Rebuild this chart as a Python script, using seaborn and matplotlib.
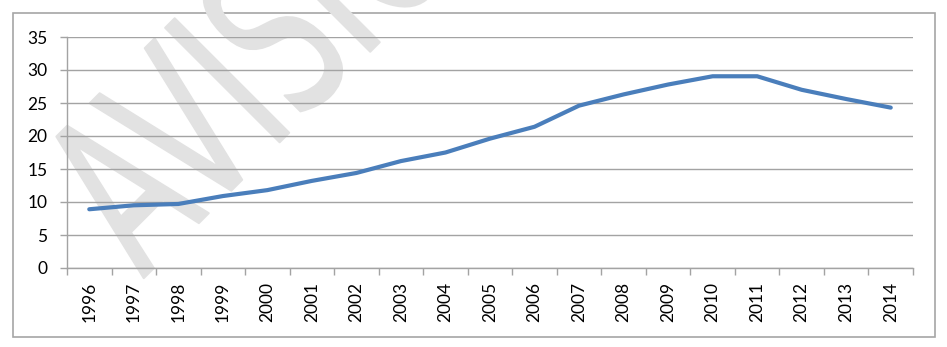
import matplotlib
matplotlib.use("Agg")
import matplotlib.pyplot as plt
from matplotlib.patches import Rectangle
from matplotlib.ticker import FixedLocator
from matplotlib.patheffects import AbstractPathEffect
from matplotlib.transforms import Affine2D
import seaborn as sns
import pandas as pd

years = [1996, 1997, 1998, 1999, 2000, 2001, 2002, 2003, 2004, 2005,
         2006, 2007, 2008, 2009, 2010, 2011, 2012, 2013, 2014]
values = [8.9, 9.5, 9.7, 10.9, 11.8, 13.2, 14.4, 16.2, 17.5, 19.6,
          21.4, 24.6, 26.3, 27.8, 29.05, 29.05, 27.0, 25.6, 24.3]
y_ticks = [0, 5, 10, 15, 20, 25, 30, 35]
watermark = "AVISIO"


class NarrowRounded(AbstractPathEffect):
    """Draw text glyphs narrowed along the baseline, with a rounded outline."""

    def __init__(self, sx, lw):
        super().__init__()
        self.sx = sx
        self.lw = lw

    def draw_path(self, renderer, gc, tpath, affine, rgbFace=None):
        aff = Affine2D().scale(self.sx, 1.0) + affine
        gc0 = renderer.new_gc()
        gc0.copy_properties(gc)
        gc0.set_linewidth(self.lw)
        gc0.set_joinstyle("round")
        gc0.set_capstyle("round")
        renderer.draw_path(gc0, tpath, aff, rgbFace)
        gc0.restore()


df = pd.DataFrame({"year": years, "value": values})

sns.set_style("white")
plt.rcParams["font.family"] = ["Lato", "DejaVu Sans"]

W, H = 947, 347
fig = plt.figure(figsize=(W / 100, H / 100), dpi=100)
fig.patch.set_facecolor("white")

# outer chart border
fig.patches.append(Rectangle((13 / W, 1 - 337 / H), (935 - 13) / W, (337 - 13) / H,
                             transform=fig.transFigure, fill=False,
                             edgecolor="#a6a6a6", linewidth=1.2, zorder=-10))

# watermark
wm = fig.text(143 / W, 1 - 279 / H, watermark, rotation=45, rotation_mode="anchor",
              ha="left", va="baseline", fontsize=160, color="#e2e2e2",
              family="DejaVu Sans", zorder=-5)
wm.set_path_effects([NarrowRounded(0.62, 1.4)])

ax = fig.add_axes([67 / W, 1 - 268 / H, (913 - 67) / W, (268 - 37) / H])
ax.patch.set_visible(False)

sns.lineplot(data=df, x="year", y="value", ax=ax, color="#4a7ebb",
             linewidth=3.0, solid_capstyle="round", zorder=5)

ax.set_xlim(years[0] - 0.5, years[-1] + 0.5)
ax.set_ylim(0, 35)
ax.set_yticks(y_ticks)
ax.set_xticks(years)
ax.set_xticklabels([str(y) for y in years], rotation=90)
ax.xaxis.set_minor_locator(FixedLocator([y - 0.5 for y in years] + [years[-1] + 0.5]))
ax.set_xlabel("")
ax.set_ylabel("")

grid_c = "#a3a3a3"
ax.grid(axis="y", color=grid_c, linewidth=1.0, zorder=1)
ax.set_axisbelow(True)
for s in ["top", "right"]:
    ax.spines[s].set_visible(False)
for s in ["left", "bottom"]:
    ax.spines[s].set_color(grid_c)
    ax.spines[s].set_linewidth(1.0)

ax.tick_params(axis="y", which="major", length=5, width=1.0, color=grid_c,
               direction="out", pad=9, labelsize=12.5, labelcolor="black")
ax.tick_params(axis="x", which="major", length=0, pad=10, labelsize=12.5,
               labelcolor="black")
ax.tick_params(axis="x", which="minor", length=5, width=1.0, color=grid_c,
               direction="out")
ax.tick_params(left=True, bottom=True)
ax.xaxis.set_tick_params(which="minor", bottom=True)

fig.savefig("out.png", dpi=100)
